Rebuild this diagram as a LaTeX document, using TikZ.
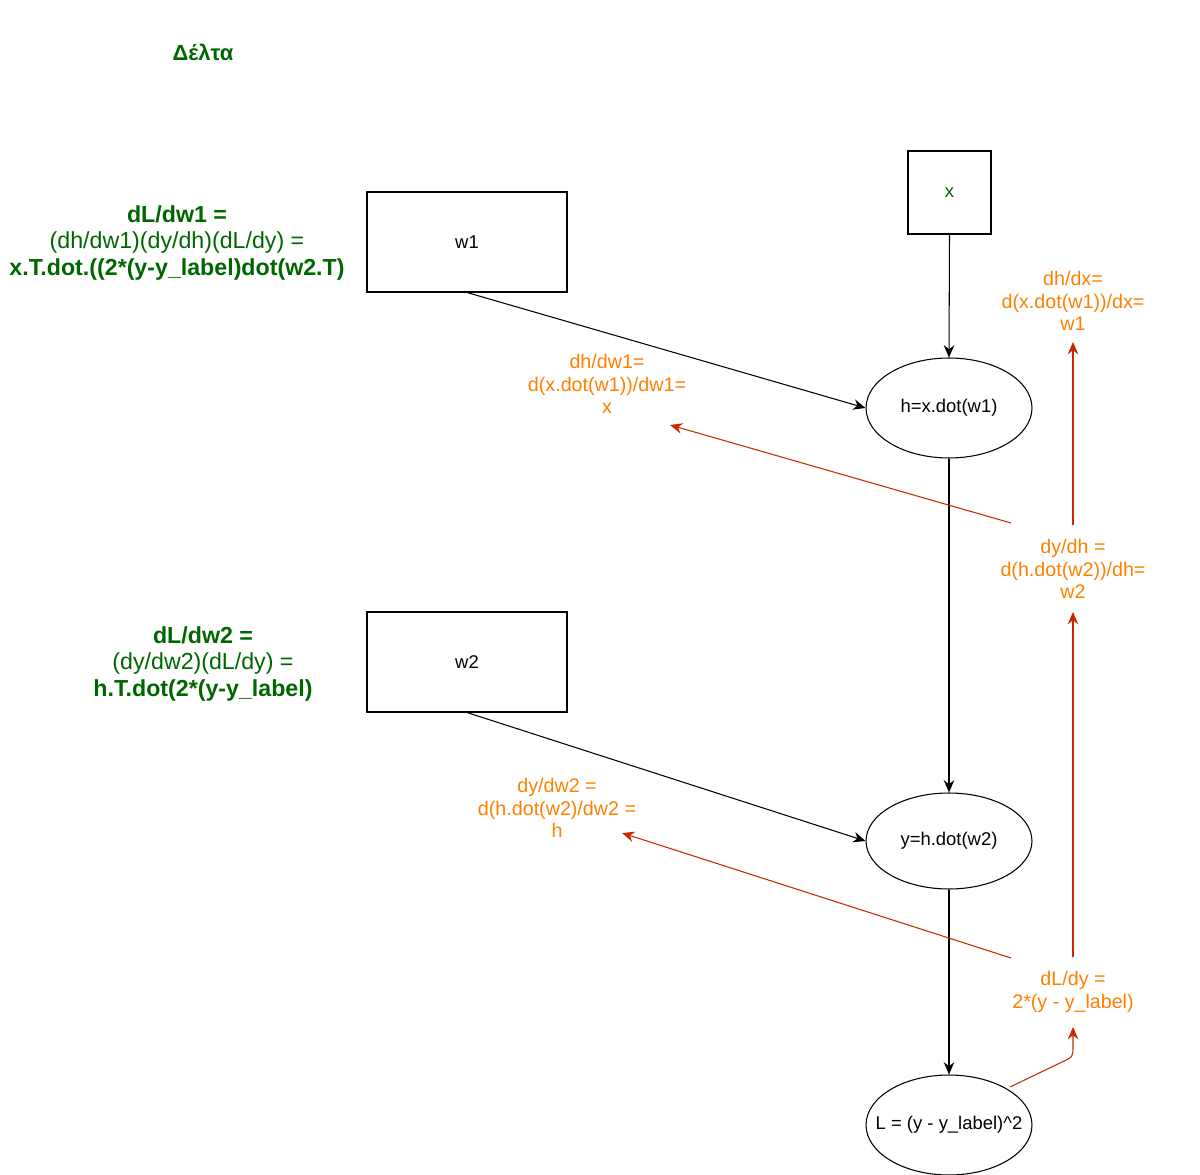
\documentclass[tikz,border=0pt]{standalone}
\usepackage{fontspec}
\setmainfont{Liberation Sans}
\usetikzlibrary{shapes.geometric,arrows.meta}
\definecolor{dg}{HTML}{006600}
\definecolor{og}{HTML}{FF8000}
\definecolor{rd}{HTML}{C82800}
\begin{document}
\begin{tikzpicture}[x=0.02cm,y=-0.02cm,
  box/.style={draw,line width=0.6pt,minimum width=4cm,minimum height=2cm,font=\fontsize{10.5}{12}\selectfont},
  ell/.style={draw,ellipse,line width=0.6pt,minimum width=3.32cm,minimum height=2cm,inner sep=0pt,font=\fontsize{10.5}{12}\selectfont},
  blk/.style={-{Stealth[length=7pt,width=6pt]},line width=0.6pt},
  red/.style={-{Stealth[length=7pt,width=6pt]},draw=rd,line width=0.6pt},
  otxt/.style={text=og,align=center,font=\fontsize{11.2}{13}\selectfont},
  gtxt/.style={text=dg,align=center,font=\fontsize{13.2}{15}\selectfont}]
\useasboundingbox (0,0) rectangle (1200,1175);
\node[text=dg,font=\bfseries\fontsize{12.5}{14}\selectfont] (title) at (203,52) {Δέλτα};
\node[draw,line width=0.6pt,minimum width=1.66cm,minimum height=1.66cm,text=dg,font=\fontsize{10.5}{12}\selectfont] (x) at (949.5,192.5) {x};
\node[box] (w1) at (467,242) {w1};
\node[box] (w2) at (467,662) {w2};
\node[ell] (h) at (949,408) {h=x.dot(w1)};
\node[ell,minimum height=1.92cm] (y) at (949,841) {y=h.dot(w2)};
\node[ell] (L) at (949,1125) {};
\node[font=\fontsize{10.5}{12}\selectfont,inner sep=0pt] (Lt) at (L.center) {L = (y - y\_label)\^{}2};
\draw[blk] (x.south) -- (h.north);
\draw[blk] (w1.south) -- (h.west);
\draw[blk] (h.south) -- (y.north);
\draw[blk] (w2.south) -- (y.west);
\draw[blk] (y.south) -- (L.north);
\node[otxt] (dhdx) at (1073,301) {dh/dx=\\d(x.dot(w1))/dx=\\w1};
\node[otxt] (dhdw1) at (607,384) {dh/dw1=\\d(x.dot(w1))/dw1=\\x};
\node[otxt] (dydh) at (1073,569) {dy/dh =\\d(h.dot(w2))/dh=\\w2};
\node[otxt] (dydw2) at (557,808) {dy/dw2 =\\d(h.dot(w2)/dw2 =\\h};
\node[otxt] (dldy) at (1073,992) {dL/dy =\\2*(y - y\_label)};
\node[gtxt] (g1) at (177,243) {\textbf{dL/dw1 =}\\(dh/dw1)(dy/dh)(dL/dy) =\\\textbf{x.T.dot.((2*(y-y\_label)dot(w2.T)}};
\node[gtxt] (g2) at (203,664) {\textbf{dL/dw2 =}\\(dy/dw2)(dL/dy) =\\\textbf{h.T.dot(2*(y-y\_label)}};
\coordinate (c1) at (1073,1027);
\coordinate (c2) at (1073,612);
\coordinate (c3) at (1073,342);
\coordinate (c4) at (670,425);
\coordinate (c5) at (622,833);
\coordinate (s1) at (1010,1087);
\coordinate (s2) at (1073,957);
\coordinate (s3) at (1073,525);
\coordinate (s4) at (1011,523);
\coordinate (s5) at (1011,958);
\draw[red] (s1) -- (1062,1062) .. controls (1073,1057) .. (1073,1045) -- (c1);
\draw[red] (s2) -- (c2);
\draw[red] (s3) -- (c3);
\draw[red] (s4) -- (c4);
\draw[red] (s5) -- (c5);
\end{tikzpicture}
\end{document}
